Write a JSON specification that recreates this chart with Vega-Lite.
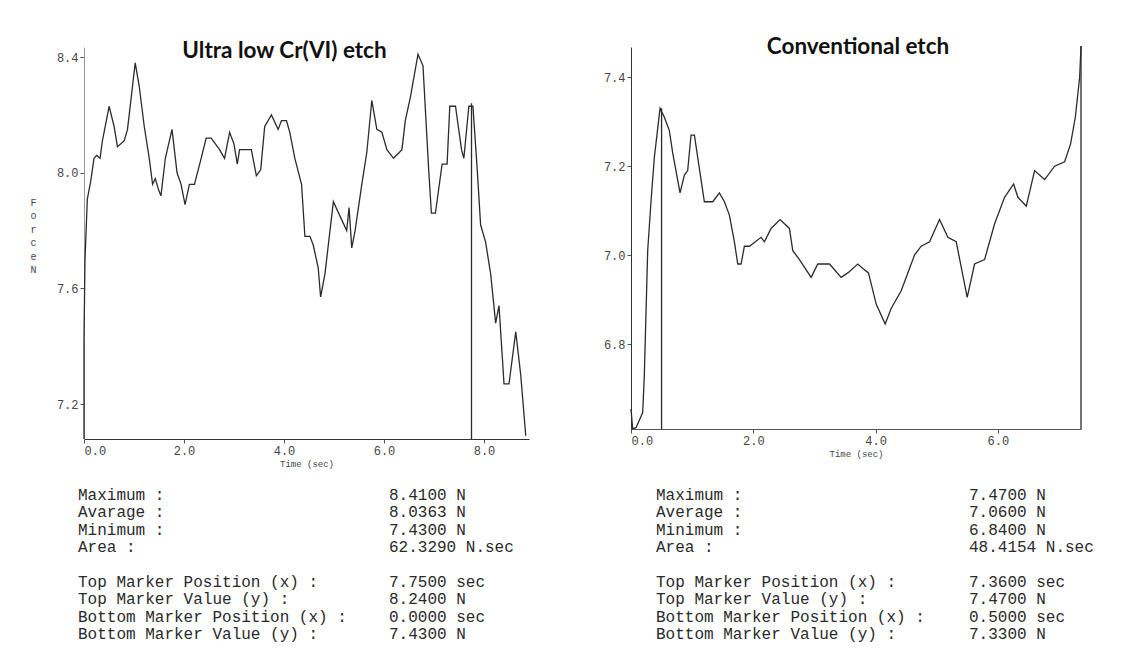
{
  "$schema": "https://vega.github.io/schema/vega-lite/v6.json",
  "background": "white",
  "padding": {"left": 29, "top": 36, "right": 5, "bottom": 5},
  "bounds": "flush",
  "columns": 2,
  "spacing": {"row": 56, "column": 102},
  "config": {
    "view": {"stroke": null},
    "axis": {
      "grid": false,
      "domainColor": "#555",
      "tickColor": "#555",
      "tickSize": 4,
      "labelFont": "Liberation Mono",
      "labelFontSize": 12,
      "labelColor": "#444",
      "titleFont": "Liberation Mono",
      "titleFontSize": 9,
      "titleFontWeight": "normal",
      "titleColor": "#444"
    },
    "title": {"font": "Lato", "fontSize": 22.5, "fontWeight": "bold", "color": "#111"}
  },
  "datasets": {
    "left": [
      {"t": 0, "v": 7.43}, {"t": 0.02, "v": 7.70}, {"t": 0.067, "v": 7.91}, {"t": 0.134, "v": 7.97},
      {"t": 0.2, "v": 8.05}, {"t": 0.254, "v": 8.06}, {"t": 0.321, "v": 8.05}, {"t": 0.368, "v": 8.11},
      {"t": 0.502, "v": 8.23}, {"t": 0.602, "v": 8.16}, {"t": 0.669, "v": 8.09}, {"t": 0.803, "v": 8.11},
      {"t": 0.87, "v": 8.15}, {"t": 0.971, "v": 8.30}, {"t": 1.024, "v": 8.38}, {"t": 1.104, "v": 8.30},
      {"t": 1.205, "v": 8.16}, {"t": 1.305, "v": 8.05}, {"t": 1.372, "v": 7.96}, {"t": 1.426, "v": 7.98},
      {"t": 1.493, "v": 7.94}, {"t": 1.539, "v": 7.92}, {"t": 1.627, "v": 8.05}, {"t": 1.76, "v": 8.15},
      {"t": 1.861, "v": 8.0}, {"t": 1.941, "v": 7.96}, {"t": 2.021, "v": 7.89}, {"t": 2.108, "v": 7.96},
      {"t": 2.209, "v": 7.96}, {"t": 2.343, "v": 8.05}, {"t": 2.443, "v": 8.12}, {"t": 2.544, "v": 8.12},
      {"t": 2.711, "v": 8.08}, {"t": 2.811, "v": 8.05}, {"t": 2.912, "v": 8.14}, {"t": 2.999, "v": 8.10},
      {"t": 3.066, "v": 8.03}, {"t": 3.112, "v": 8.08}, {"t": 3.246, "v": 8.08}, {"t": 3.347, "v": 8.08},
      {"t": 3.447, "v": 7.99}, {"t": 3.534, "v": 8.01}, {"t": 3.614, "v": 8.16}, {"t": 3.748, "v": 8.20},
      {"t": 3.882, "v": 8.15}, {"t": 3.949, "v": 8.18}, {"t": 4.05, "v": 8.18}, {"t": 4.116, "v": 8.14},
      {"t": 4.217, "v": 8.05}, {"t": 4.351, "v": 7.96}, {"t": 4.418, "v": 7.78}, {"t": 4.518, "v": 7.78},
      {"t": 4.585, "v": 7.75}, {"t": 4.685, "v": 7.67}, {"t": 4.732, "v": 7.57}, {"t": 4.819, "v": 7.65},
      {"t": 4.987, "v": 7.90}, {"t": 5.12, "v": 7.85}, {"t": 5.254, "v": 7.80}, {"t": 5.301, "v": 7.88},
      {"t": 5.355, "v": 7.74}, {"t": 5.422, "v": 7.80}, {"t": 5.556, "v": 7.96}, {"t": 5.656, "v": 8.07},
      {"t": 5.756, "v": 8.25}, {"t": 5.857, "v": 8.15}, {"t": 5.957, "v": 8.14}, {"t": 6.058, "v": 8.08},
      {"t": 6.191, "v": 8.05}, {"t": 6.359, "v": 8.08}, {"t": 6.426, "v": 8.18}, {"t": 6.526, "v": 8.26},
      {"t": 6.68, "v": 8.41}, {"t": 6.78, "v": 8.37}, {"t": 6.827, "v": 8.22}, {"t": 6.894, "v": 8.01},
      {"t": 6.948, "v": 7.86}, {"t": 7.028, "v": 7.86}, {"t": 7.162, "v": 8.03}, {"t": 7.262, "v": 8.03},
      {"t": 7.316, "v": 8.23}, {"t": 7.43, "v": 8.23}, {"t": 7.55, "v": 8.08}, {"t": 7.597, "v": 8.05},
      {"t": 7.697, "v": 8.23}, {"t": 7.778, "v": 8.23}, {"t": 7.865, "v": 8.01}, {"t": 7.932, "v": 7.82},
      {"t": 8.032, "v": 7.76}, {"t": 8.133, "v": 7.65}, {"t": 8.233, "v": 7.48}, {"t": 8.3, "v": 7.54},
      {"t": 8.367, "v": 7.36}, {"t": 8.4, "v": 7.27}, {"t": 8.5, "v": 7.27}, {"t": 8.635, "v": 7.45},
      {"t": 8.735, "v": 7.30}, {"t": 8.835, "v": 7.09}
    ],
    "leftMarkers": [{"t": 7.75, "v": 8.24}, {"t": 0, "v": 7.43}],
    "right": [
      {"t": 0, "v": 6.654}, {"t": 0.027, "v": 6.61}, {"t": 0.082, "v": 6.612}, {"t": 0.191, "v": 6.646},
      {"t": 0.218, "v": 6.73}, {"t": 0.273, "v": 7.01}, {"t": 0.327, "v": 7.12}, {"t": 0.382, "v": 7.22},
      {"t": 0.475, "v": 7.33}, {"t": 0.546, "v": 7.31}, {"t": 0.627, "v": 7.28}, {"t": 0.682, "v": 7.23},
      {"t": 0.802, "v": 7.14}, {"t": 0.873, "v": 7.18}, {"t": 0.927, "v": 7.19}, {"t": 0.982, "v": 7.27},
      {"t": 1.037, "v": 7.27}, {"t": 1.091, "v": 7.22}, {"t": 1.2, "v": 7.12}, {"t": 1.337, "v": 7.12},
      {"t": 1.446, "v": 7.14}, {"t": 1.528, "v": 7.12}, {"t": 1.609, "v": 7.09}, {"t": 1.691, "v": 7.03},
      {"t": 1.746, "v": 6.98}, {"t": 1.8, "v": 6.98}, {"t": 1.855, "v": 7.02}, {"t": 1.937, "v": 7.02},
      {"t": 2.128, "v": 7.04}, {"t": 2.182, "v": 7.03}, {"t": 2.291, "v": 7.06}, {"t": 2.439, "v": 7.08},
      {"t": 2.591, "v": 7.06}, {"t": 2.646, "v": 7.01}, {"t": 2.755, "v": 6.99}, {"t": 2.946, "v": 6.95},
      {"t": 3.055, "v": 6.98}, {"t": 3.246, "v": 6.98}, {"t": 3.437, "v": 6.95}, {"t": 3.546, "v": 6.96},
      {"t": 3.71, "v": 6.98}, {"t": 3.792, "v": 6.97}, {"t": 3.884, "v": 6.96}, {"t": 4.01, "v": 6.89},
      {"t": 4.157, "v": 6.845}, {"t": 4.255, "v": 6.88}, {"t": 4.419, "v": 6.92}, {"t": 4.528, "v": 6.96},
      {"t": 4.637, "v": 7.0}, {"t": 4.746, "v": 7.02}, {"t": 4.883, "v": 7.03}, {"t": 5.046, "v": 7.08},
      {"t": 5.183, "v": 7.04}, {"t": 5.319, "v": 7.03}, {"t": 5.499, "v": 6.905}, {"t": 5.619, "v": 6.98},
      {"t": 5.783, "v": 6.99}, {"t": 5.946, "v": 7.07}, {"t": 6.11, "v": 7.13}, {"t": 6.258, "v": 7.16},
      {"t": 6.328, "v": 7.13}, {"t": 6.465, "v": 7.11}, {"t": 6.601, "v": 7.19}, {"t": 6.765, "v": 7.17},
      {"t": 6.928, "v": 7.20}, {"t": 7.092, "v": 7.21}, {"t": 7.19, "v": 7.25}, {"t": 7.267, "v": 7.31},
      {"t": 7.338, "v": 7.40}, {"t": 7.36, "v": 7.47}
    ],
    "rightMarkers": [{"t": 0.5, "v": 7.33}, {"t": 7.36, "v": 7.47}],
    "leftStats": [
      {"row": 1, "col": "label", "text": "Maximum :"}, {"row": 1, "col": "value", "text": "8.4100 N"},
      {"row": 2, "col": "label", "text": "Avarage :"}, {"row": 2, "col": "value", "text": "8.0363 N"},
      {"row": 3, "col": "label", "text": "Minimum :"}, {"row": 3, "col": "value", "text": "7.4300 N"},
      {"row": 4, "col": "label", "text": "Area :"}, {"row": 4, "col": "value", "text": "62.3290 N.sec"},
      {"row": 6, "col": "label", "text": "Top Marker Position (x) :"}, {"row": 6, "col": "value", "text": "7.7500 sec"},
      {"row": 7, "col": "label", "text": "Top Marker Value (y) :"}, {"row": 7, "col": "value", "text": "8.2400 N"},
      {"row": 8, "col": "label", "text": "Bottom Marker Position (x) :"}, {"row": 8, "col": "value", "text": "0.0000 sec"},
      {"row": 9, "col": "label", "text": "Bottom Marker Value (y) :"}, {"row": 9, "col": "value", "text": "7.4300 N"}
    ],
    "rightStats": [
      {"row": 1, "col": "label", "text": "Maximum :"}, {"row": 1, "col": "value", "text": "7.4700 N"},
      {"row": 2, "col": "label", "text": "Average :"}, {"row": 2, "col": "value", "text": "7.0600 N"},
      {"row": 3, "col": "label", "text": "Minimum :"}, {"row": 3, "col": "value", "text": "6.8400 N"},
      {"row": 4, "col": "label", "text": "Area :"}, {"row": 4, "col": "value", "text": "48.4154 N.sec"},
      {"row": 6, "col": "label", "text": "Top Marker Position (x) :"}, {"row": 6, "col": "value", "text": "7.3600 sec"},
      {"row": 7, "col": "label", "text": "Top Marker Value (y) :"}, {"row": 7, "col": "value", "text": "7.4700 N"},
      {"row": 8, "col": "label", "text": "Bottom Marker Position (x) :"}, {"row": 8, "col": "value", "text": "0.5000 sec"},
      {"row": 9, "col": "label", "text": "Bottom Marker Value (y) :"}, {"row": 9, "col": "value", "text": "7.3300 N"}
    ]
  },
  "concat": [
    {
      "width": 445,
      "height": 392,
      "title": {"text": "Ultra low Cr(VI) etch", "dx": -22, "offset": -33, "frame": "group", "baseline": "alphabetic"},
      "layer": [
        {
          "data": {"name": "left"},
          "mark": {"type": "line", "color": "#2b2b2b", "strokeWidth": 1.3},
          "encoding": {
            "x": {"field": "t", "type": "quantitative",
              "scale": {"domain": [0, 8.9], "nice": false, "zero": false},
              "axis": {"values": [0, 2, 4, 6, 8], "format": ".1f", "title": "Time (sec)", "titlePadding": 3, "domainColor": "#333"}},
            "y": {"field": "v", "type": "quantitative",
              "scale": {"domain": [7.079, 8.435], "nice": false, "zero": false},
              "axis": {"values": [7.2, 7.6, 8.0, 8.4], "format": ".1f", "domainColor": "#999",
                "title": ["F", "o", "r", "c", "e", "\u00a0", "N"], "titleAngle": 0, "titleX": -51, "titleY": 150,
                "titleFontSize": 10, "titleAlign": "center", "titleBaseline": "top", "titleLineHeight": 13.5}}
          }
        },
        {
          "data": {"name": "leftMarkers"},
          "mark": {"type": "rule", "color": "#2b2b2b", "strokeWidth": 1.3},
          "encoding": {
            "x": {"field": "t", "type": "quantitative"},
            "y": {"field": "v", "type": "quantitative"},
            "y2": {"datum": 7.079}
          }
        }
      ]
    },
    {
      "width": 450,
      "height": 382,
      "title": {"text": "Conventional etch", "dx": 2, "offset": -33, "frame": "group", "baseline": "alphabetic"},
      "layer": [
        {
          "data": {"name": "right"},
          "mark": {"type": "line", "color": "#2b2b2b", "strokeWidth": 1.3},
          "encoding": {
            "x": {"field": "t", "type": "quantitative",
              "scale": {"domain": [0, 7.36], "nice": false, "zero": false},
              "axis": {"values": [0, 2, 4, 6], "format": ".1f", "title": "Time (sec)", "titlePadding": 3}},
            "y": {"field": "v", "type": "quantitative",
              "scale": {"domain": [6.609, 7.468], "nice": false, "zero": false},
              "axis": {"values": [6.8, 7.0, 7.2, 7.4], "format": ".1f", "title": null, "domainColor": "#333"}}
          }
        },
        {
          "data": {"name": "rightMarkers"},
          "mark": {"type": "rule", "color": "#2b2b2b", "strokeWidth": 1.3},
          "encoding": {
            "x": {"field": "t", "type": "quantitative"},
            "y": {"field": "v", "type": "quantitative"},
            "y2": {"datum": 6.609}
          }
        }
      ]
    },
    {
      "width": 445,
      "height": 139,
      "data": {"name": "leftStats"},
      "mark": {"type": "text", "align": "left", "baseline": "middle", "font": "Liberation Mono", "fontSize": 16, "color": "#2a2a2a"},
      "encoding": {
        "x": {"field": "col", "type": "nominal", "scale": {"type": "point", "domain": ["label", "value"], "range": [-6, 305], "padding": 0}, "axis": null},
        "y": {"field": "row", "type": "ordinal", "scale": {"type": "point", "domain": [1, 2, 3, 4, 5, 6, 7, 8, 9], "padding": 0}, "axis": null},
        "text": {"field": "text"}
      }
    },
    {
      "width": 450,
      "height": 139,
      "data": {"name": "rightStats"},
      "mark": {"type": "text", "align": "left", "baseline": "middle", "font": "Liberation Mono", "fontSize": 16, "color": "#2a2a2a"},
      "encoding": {
        "x": {"field": "col", "type": "nominal", "scale": {"type": "point", "domain": ["label", "value"], "range": [25, 338], "padding": 0}, "axis": null},
        "y": {"field": "row", "type": "ordinal", "scale": {"type": "point", "domain": [1, 2, 3, 4, 5, 6, 7, 8, 9], "padding": 0}, "axis": null},
        "text": {"field": "text"}
      }
    }
  ]
}
